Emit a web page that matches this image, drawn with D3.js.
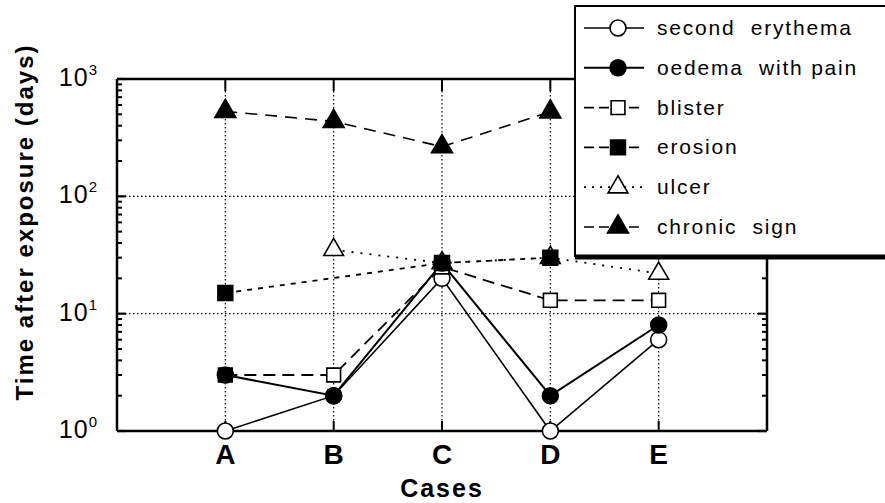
<!DOCTYPE html>
<html>
<head>
<meta charset="utf-8">
<script src="https://cdn.jsdelivr.net/npm/d3@7/dist/d3.min.js"></script>
<style>
  body { margin: 0; background: #fff; }
  svg { display: block; font-family: "Liberation Sans", Arial, sans-serif; }
</style>
</head>
<body>
<svg id="chart"></svg>
<script>
// values (days), null = no point
var cases = ["A", "B", "C", "D", "E"];
var secondErythema = [1, 2, 20, 1, 6];
var oedemaWithPain = [3, 2, 27, 2, 8];
var blister = [3, 3, 25, 13, 13];
var erosion = [15, null, 27, 30, null];
var ulcer = [null, 35, 27, 30, 22];
var chronicSign = [530, 435, 265, 525, null];
var seriesNames = ["second  erythema", "oedema  with pain", "blister", "erosion", "ulcer", "chronic  sign"];
var yTicks = [1, 10, 100, 1000];
var yExponents = ["0", "1", "2", "3"];

var width = 885, height = 503;
var margin = {top: 79, right: 118, bottom: 72, left: 117};

var svg = d3.select("#chart")
    .attr("width", width)
    .attr("height", height);

var x = d3.scaleLinear()
    .domain([0, cases.length + 1])
    .range([margin.left, width - margin.right]);

var y = d3.scaleLog()
    .domain([1, 1000])
    .range([height - margin.bottom, margin.top]);

var x0 = x.range()[0], x1 = x.range()[1];
var yb = y.range()[0], yt = y.range()[1];

// look of each series
var styles = [
  {values: secondErythema, symbol: d3.symbolCircle, size: 200, fill: "#fff", dash: null, lw: 1.6},
  {values: oedemaWithPain, symbol: d3.symbolCircle, size: 200, fill: "#000", dash: null, lw: 2},
  {values: blister, symbol: d3.symbolSquare, size: 190, fill: "#fff", dash: "12,7", lw: 1.8},
  {values: erosion, symbol: d3.symbolSquare, size: 220, fill: "#000", dash: "5,6", lw: 1.8},
  {values: ulcer, symbol: d3.symbolTriangle, size: 170, fill: "#fff", dash: "2,7", lw: 1.8},
  {values: chronicSign, symbol: d3.symbolTriangle, size: 190, fill: "#000", dash: "12,8", lw: 1.6}
];

// dotted grid
var grid = svg.append("g").attr("stroke", "#000").attr("stroke-width", 1.2)
    .attr("stroke-dasharray", "1.5,2.5");
grid.selectAll(".vg")
  .data(cases)
  .enter().append("line")
    .attr("x1", function(d, i) { return x(i + 1); })
    .attr("x2", function(d, i) { return x(i + 1); })
    .attr("y1", yt).attr("y2", yb);
grid.selectAll(".hg")
  .data([10, 100])
  .enter().append("line")
    .attr("x1", x0).attr("x2", x1)
    .attr("y1", function(d) { return y(d); })
    .attr("y2", function(d) { return y(d); });

// frame
var frame = svg.append("g").attr("stroke", "#000");
frame.append("line").attr("x1", x0).attr("x2", x1).attr("y1", yb).attr("y2", yb).attr("stroke-width", 2.5);
frame.append("line").attr("x1", x0).attr("x2", x1).attr("y1", yt).attr("y2", yt).attr("stroke-width", 2.5);
frame.append("line").attr("x1", x0).attr("x2", x0).attr("y1", yt).attr("y2", yb).attr("stroke-width", 2.5);
frame.append("line").attr("x1", x1).attr("x2", x1).attr("y1", yt).attr("y2", yb).attr("stroke-width", 2.5);

// log ticks pointing inward on left and right
var minor = [];
for (var dec = 1; dec < 1000; dec *= 10) {
  for (var k = 2; k <= 9; k++) minor.push(dec * k);
}
[x0, x1].forEach(function(xa, side) {
  var dir = side === 0 ? 1 : -1;
  frame.selectAll(null)
    .data(minor)
    .enter().append("line")
      .attr("x1", xa).attr("x2", xa + dir * 5)
      .attr("y1", function(d) { return y(d); })
      .attr("y2", function(d) { return y(d); })
      .attr("stroke-width", 2);
  frame.selectAll(null)
    .data(yTicks)
    .enter().append("line")
      .attr("x1", xa).attr("x2", xa + dir * 9)
      .attr("y1", function(d) { return y(d); })
      .attr("y2", function(d) { return y(d); })
      .attr("stroke-width", 2.2);
});

// case ticks on top and bottom
frame.selectAll(null)
  .data(cases)
  .enter().append("line")
    .attr("x1", function(d, i) { return x(i + 1); })
    .attr("x2", function(d, i) { return x(i + 1); })
    .attr("y1", yt).attr("y2", yt + 12)
    .attr("stroke-width", 2);
frame.selectAll(null)
  .data(cases)
  .enter().append("line")
    .attr("x1", function(d, i) { return x(i + 1); })
    .attr("x2", function(d, i) { return x(i + 1); })
    .attr("y1", yb).attr("y2", yb - 10)
    .attr("stroke-width", 2);

// y tick labels 10^n
var ylab = svg.selectAll(".ylab")
  .data(yTicks)
  .enter().append("text")
    .attr("class", "ylab")
    .attr("x", 98)
    .attr("y", function(d) { return y(d) + 7; })
    .attr("text-anchor", "end")
    .attr("font-size", 25)
    .attr("letter-spacing", 1);
ylab.append("tspan").text("10");
ylab.append("tspan")
    .attr("dy", -11)
    .attr("font-size", 15)
    .text(function(d, i) { return yExponents[i]; });

// x tick labels
svg.selectAll(".xlab")
  .data(cases)
  .enter().append("text")
    .attr("x", function(d, i) { return x(i + 1); })
    .attr("y", 464)
    .attr("text-anchor", "middle")
    .attr("font-size", 28)
    .attr("font-weight", "bold")
    .text(function(d) { return d; });

svg.append("text")
    .attr("x", (x0 + x1) / 2)
    .attr("y", 497)
    .attr("text-anchor", "middle")
    .attr("font-size", 25)
    .attr("font-weight", "bold")
    .attr("letter-spacing", 2)
    .text("Cases");

svg.append("text")
    .attr("transform", "translate(33,222) rotate(-90)")
    .attr("text-anchor", "middle")
    .attr("font-size", 24)
    .attr("font-weight", "bold")
    .attr("letter-spacing", 2)
    .text("Time  after  exposure  (days)");

// series lines
var line = d3.line()
    .x(function(d) { return x(d.i + 1); })
    .y(function(d) { return y(d.v); });

function points(values) {
  return values.map(function(v, i) { return {v: v, i: i}; })
    .filter(function(d) { return d.v != null; });
}

styles.forEach(function(s) {
  svg.append("path")
    .datum(points(s.values))
    .attr("d", line)
    .attr("fill", "none")
    .attr("stroke", "#000")
    .attr("stroke-width", s.lw)
    .attr("stroke-dasharray", s.dash);
});

// markers (open ones first so filled ones sit on top)
[0, 2, 4, 1, 3, 5].forEach(function(k) {
  var s = styles[k];
  svg.selectAll(null)
    .data(points(s.values))
    .enter().append("path")
      .attr("transform", function(d) { return "translate(" + x(d.i + 1) + "," + y(d.v) + ")"; })
      .attr("d", d3.symbol().type(s.symbol).size(s.size))
      .attr("fill", s.fill)
      .attr("stroke", "#000")
      .attr("stroke-width", 1.6);
});

// legend
var legend = svg.append("g");
legend.append("rect")
    .attr("x", 575).attr("y", 6)
    .attr("width", 320).attr("height", 250)
    .attr("fill", "#fff")
    .attr("stroke", "#000")
    .attr("stroke-width", 2);
legend.append("line")
    .attr("x1", 575).attr("x2", 885)
    .attr("y1", 257).attr("y2", 257)
    .attr("stroke", "#000")
    .attr("stroke-width", 5);

var rows = legend.selectAll(".row")
  .data(seriesNames)
  .enter().append("g")
    .attr("transform", function(d, i) { return "translate(0," + (28 + i * 39.8) + ")"; });

rows.append("line")
    .attr("x1", 584).attr("x2", 644)
    .attr("stroke", "#000")
    .attr("stroke-width", function(d, i) { return styles[i].lw; })
    .attr("stroke-dasharray", function(d, i) { return styles[i].dash ? (i === 4 ? "2,6" : "10,5") : null; });
rows.append("path")
    .attr("transform", "translate(618,0)")
    .attr("d", function(d, i) { return d3.symbol().type(styles[i].symbol).size(styles[i].size)(); })
    .attr("fill", function(d, i) { return styles[i].fill; })
    .attr("stroke", "#000")
    .attr("stroke-width", 1.6);
rows.append("text")
    .attr("x", 657)
    .attr("y", 7)
    .attr("font-size", 21)
    .attr("letter-spacing", 1.8)
    .style("white-space", "pre")
    .text(function(d) { return d; });
</script>
</body>
</html>
